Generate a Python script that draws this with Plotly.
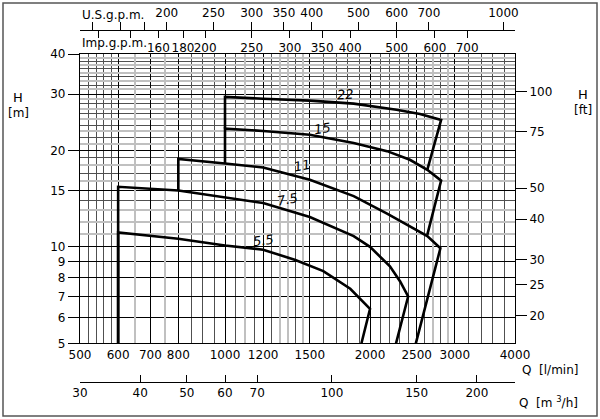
import numpy as np
import plotly.graph_objects as go

# pump curves, Q [l/min] vs H [m]
q_55 = [600, 600, 800, 1000, 1200, 1400, 1600, 1820, 2000, 1920]
h_55 = [5, 11.1, 10.6, 10.1, 9.8, 9.1, 8.4, 7.4, 6.4, 5]
q_75 = [600, 600, 800, 1000, 1200, 1500, 1850, 2000, 2200, 2310, 2400, 2265]
h_75 = [5, 15.4, 15.0, 14.3, 13.7, 12.4, 10.8, 10.0, 8.7, 7.8, 7.0, 5]
q_11 = [800, 800, 1000, 1200, 1500, 1850, 2170, 2420, 2630, 2800, 2490]
h_11 = [15.0, 18.8, 18.2, 17.7, 16.2, 14.4, 12.7, 11.6, 10.8, 9.9, 5]
q_15 = [1000, 1000, 1200, 1500, 1850, 2170, 2420, 2630, 2810, 2630]
h_15 = [18.2, 23.4, 23.0, 22.4, 21.1, 19.9, 18.7, 17.4, 16.1, 10.9]
q_22 = [1000, 1000, 1200, 1500, 1850, 2270, 2540, 2810, 2630]
h_22 = [23.4, 29.4, 29.0, 28.6, 28.0, 26.8, 26.0, 24.9, 17.4]

curve_names = ["5.5", "7.5", "11", "15", "22"]
curve_q = [q_55, q_75, q_11, q_15, q_22]
curve_h = [h_55, h_75, h_11, h_15, h_22]
label_q = [1200, 1345, 1450, 1595, 1783]
label_h = [10.45, 14.1, 17.9, 23.5, 30.0]
label_angle = [-8, -10, -10, -8, -3]

# axis ticks
q_ticks = [500, 600, 700, 800, 1000, 1200, 1500, 2000, 2500, 3000, 4000]
q_minor = [520, 540, 560, 580, 850, 900, 950, 1050, 1150, 1250, 1400,
           1600, 1700, 1800, 1900, 2100, 2200, 2300, 2400, 2600, 2800,
           3200, 3400, 3600, 3800]
q_gray = [650, 750, 1100, 1300, 1350, 1450, 2700, 2900]
h_ticks = [5, 6, 7, 8, 9, 10, 15, 20, 30, 40]
h_minor = [14, 17, 19, 22, 24, 26, 28, 32, 34, 36, 38]
h_gray = [11, 12, 13, 16, 18, 21, 23, 25, 27, 29, 31, 33, 35, 37, 39]
ft_ticks = [20, 25, 30, 40, 50, 75, 100]
usgpm_ticks = [140, 160, 180, 200, 250, 300, 350, 400, 500, 600, 700, 1000]
usgpm_text = ["", "", "", "200", "250", "300", "350", "400", "500", "600", "700", "1000"]
impgpm_ticks = [120, 140, 160, 180, 200, 250, 300, 350, 400, 500, 600, 700]
impgpm_text = ["", "", "160", "180", "200", "250", "300", "350", "400", "500", "600", "700"]
m3h_ticks = [30, 40, 50, 60, 70, 100, 150, 200]

US_GAL = 3.78541
IMP_GAL = 4.54609
M_TO_FT = 3.28084

W, H = 600, 419
xd = [80 / W, 515 / W]
yd = [1 - 343.3 / H, 1 - 54 / H]
qr = [np.log10(500), np.log10(4000)]
hr = [np.log10(5), np.log10(40)]

fig = go.Figure()

# hidden copies of one curve, in the other units, so that every extra axis gets drawn
q_ref = np.array(q_22, dtype=float)
h_ref = np.array(h_22, dtype=float)
hidden = [
    (q_ref, h_ref, 'x5', 'y3'),
    (q_ref / US_GAL, h_ref, 'x2', 'y'),
    (q_ref / IMP_GAL, h_ref, 'x3', 'y'),
    (q_ref * 0.06, h_ref, 'x4', 'y'),
    (q_ref, h_ref * M_TO_FT, 'x', 'y2'),
]
for hx, hy, xa, ya in hidden:
    fig.add_trace(go.Scatter(x=hx, y=hy, xaxis=xa, yaxis=ya, mode='lines',
                             line=dict(color='rgba(0,0,0,0)', width=0),
                             hoverinfo='skip', showlegend=False))

for name, q, h in zip(curve_names, curve_q, curve_h):
    fig.add_trace(go.Scatter(x=q, y=h, mode='lines', name=name,
                             line=dict(color='black', width=2.6),
                             hoverinfo='skip', showlegend=False))

for name, q, h, a in zip(curve_names, label_q, label_h, label_angle):
    fig.add_annotation(x=np.log10(q), y=np.log10(h), xref='x', yref='y',
                       text='<i>' + name + '</i>', showarrow=False,
                       textangle=a, font=dict(size=13))

txt = [
    ("U.S.g.p.m.", 80, 15, 'left'),
    ("Imp.g.p.m.", 80, 43, 'left'),
    ("H", 18, 97, 'center'),
    ("[m]", 18, 113, 'center'),
    ("H", 583, 94, 'center'),
    ("[ft]", 583, 110, 'center'),
    ("Q  [l/min]", 580, 370, 'right'),
    ("Q  [m <sup>3</sup>/h]", 580, 402, 'right'),
]
for t, px, py, xa in txt:
    fig.add_annotation(x=px / W, y=1 - py / H, xref='paper', yref='paper',
                       text=t, showarrow=False, xanchor=xa, yanchor='middle',
                       font=dict(size=13 if t == "H" else 12))

fig.add_shape(type='rect', xref='paper', yref='paper',
              x0=3 / W, x1=597 / W, y0=1 - 416 / H, y1=1 - 3 / H,
              line=dict(color='#555555', width=1.5))

common = dict(type='log', fixedrange=True, zeroline=False, automargin=False)

fig.update_layout(
    template='none',
    width=W, height=H, margin=dict(l=0, r=0, t=0, b=0, pad=0),
    paper_bgcolor='white', plot_bgcolor='white',
    font=dict(family='DejaVu Sans', size=12, color='black'),
    showlegend=False,
    xaxis=dict(**common, range=qr, domain=xd, anchor='y',
               tickvals=q_ticks, ticktext=[str(v) for v in q_ticks],
               ticks='', showgrid=True, gridcolor='black', gridwidth=1,
               showline=True, linecolor='black', linewidth=1.3, mirror=True,
               minor=dict(tickvals=q_minor, showgrid=True, gridcolor='#505050',
                          gridwidth=0.7, ticks='')),
    xaxis5=dict(**common, range=qr, domain=xd, anchor='y', overlaying='x',
                tickvals=q_gray, showticklabels=False, ticks='',
                showgrid=True, gridcolor='#c0c0c0', gridwidth=1.5, showline=False),
    xaxis2=dict(**common, range=[np.log10(500 / US_GAL), np.log10(4000 / US_GAL)],
                domain=xd, anchor='free', position=1 - 30 / H, overlaying='x',
                side='top', tickvals=usgpm_ticks, ticktext=usgpm_text, tickangle=0,
                ticks='outside', ticklen=8, tickcolor='black', tickwidth=1.2,
                showline=True, linecolor='black', linewidth=1.2, showgrid=False),
    xaxis3=dict(**common, range=[np.log10(500 / IMP_GAL), np.log10(4000 / IMP_GAL)],
                domain=xd, anchor='free', position=1 - 30 / H, overlaying='x',
                side='bottom', tickvals=impgpm_ticks, ticktext=impgpm_text, tickangle=0,
                ticks='outside', ticklen=7, tickcolor='black', tickwidth=1.2,
                showline=False, showgrid=False),
    xaxis4=dict(**common, range=[np.log10(30), np.log10(240)],
                domain=xd, anchor='free', position=1 - 381.7 / H, overlaying='x',
                side='bottom', tickvals=m3h_ticks, ticktext=[str(v) for v in m3h_ticks],
                tickangle=0, ticks='inside', ticklen=7, tickcolor='black', tickwidth=1.2,
                showline=True, linecolor='black', linewidth=1.2, showgrid=False),
    yaxis=dict(**common, range=hr, domain=yd, anchor='x',
               tickvals=h_ticks, ticktext=[str(v) for v in h_ticks],
               ticks='outside', ticklen=11, tickcolor='black', tickwidth=1.2,
               showgrid=True, gridcolor='black', gridwidth=1,
               showline=True, linecolor='black', linewidth=1.3, mirror=True,
               minor=dict(tickvals=h_minor, showgrid=True, gridcolor='#505050',
                          gridwidth=0.7, ticks='')),
    yaxis3=dict(**common, range=hr, domain=yd, anchor='x', overlaying='y',
                tickvals=h_gray, showticklabels=False, ticks='',
                showgrid=True, gridcolor='#c0c0c0', gridwidth=1.5, showline=False),
    yaxis2=dict(**common, range=[np.log10(5 * M_TO_FT), np.log10(40 * M_TO_FT)],
                domain=yd, anchor='x', overlaying='y', side='right',
                tickvals=ft_ticks, ticktext=[str(v) for v in ft_ticks],
                ticks='outside', ticklen=11, tickcolor='black', tickwidth=1.2,
                showgrid=False, showline=False),
)

# the page body has a default 8px margin; drop it so the figure fills the window
fig.write_html("out.html", config={'displayModeBar': False},
               post_script="document.body.style.margin='0px';")
